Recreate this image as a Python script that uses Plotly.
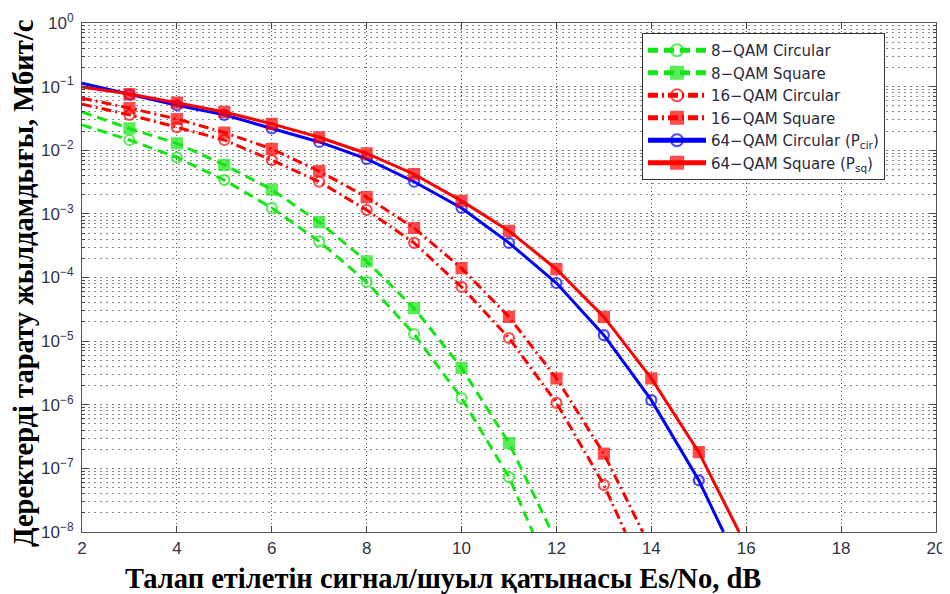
import plotly.graph_objects as go

# ---------------- data ----------------
snr_c8 = [2, 3, 4, 5, 6, 7, 8, 9, 10, 11, 11.5]
ber_c8 = [0.025, 0.0145, 0.0077, 0.0034, 0.00124, 3.7e-4, 8.5e-5, 1.29e-5, 1.27e-6, 7.3e-8, 1e-8]

snr_s8 = [2, 3, 4, 5, 6, 7, 8, 9, 10, 11, 11.9]
ber_s8 = [0.040, 0.022, 0.0128, 0.0059, 0.0024, 7.4e-4, 1.8e-4, 3.3e-5, 3.8e-6, 2.5e-7, 1e-8]

snr_c16 = [2, 3, 4, 5, 6, 7, 8, 9, 10, 11, 12, 13, 13.45]
ber_c16 = [0.053, 0.036, 0.023, 0.0145, 0.0070, 0.0032, 1.15e-3, 3.5e-4, 7.1e-5, 1.12e-5, 1.07e-6, 5.5e-8, 1e-8]

snr_s16 = [2, 3, 4, 5, 6, 7, 8, 9, 10, 11, 12, 13, 13.82]
ber_s16 = [0.066, 0.046, 0.031, 0.019, 0.0105, 0.0047, 1.83e-3, 6.0e-4, 1.4e-4, 2.4e-5, 2.6e-6, 1.7e-7, 1e-8]

snr_c64 = [2, 3, 4, 5, 6, 7, 8, 9, 10, 11, 12, 13, 14, 15, 15.52]
ber_c64 = [0.113, 0.075, 0.051, 0.036, 0.022, 0.0135, 0.0073, 0.0032, 1.24e-3, 3.5e-4, 8.2e-5,
           1.24e-5, 1.18e-6, 6.5e-8, 1e-8]

snr_s64 = [2, 3, 4, 5, 6, 7, 8, 9, 10, 11, 12, 13, 14, 15, 15.85]
ber_s64 = [0.099, 0.0765, 0.056, 0.040, 0.026, 0.016, 0.0089, 0.0042, 1.6e-3, 5.4e-4, 1.35e-4,
           2.4e-5, 2.6e-6, 1.8e-7, 1e-8]

series_names = ["8−QAM Circular", "8−QAM Square", "16−QAM Circular", "16−QAM Square",
                "64−QAM Circular (P<sub>cir</sub>)", "64−QAM Square (P<sub>sq</sub>)"]

x_tick_vals = [2, 4, 6, 8, 10, 12, 14, 16, 18, 20]
y_tick_vals = [1, 1e-1, 1e-2, 1e-3, 1e-4, 1e-5, 1e-6, 1e-7, 1e-8]
y_tick_text = ["10<sup>0</sup>", "10<sup>−1</sup>", "10<sup>−2</sup>", "10<sup>−3</sup>",
               "10<sup>−4</sup>", "10<sup>−5</sup>", "10<sup>−6</sup>", "10<sup>−7</sup>",
               "10<sup>−8</sup>"]

x_title = "Талап етілетін сигнал/шуыл қатынасы Es/No, dB"
y_title = "Деректерді тарату жылдамдығы, Мбит/с"

# ---------------- styles ----------------
GREEN = "#14e614"
RED = "#ff0000"
BLUE = "#0000ff"

styles = [
    dict(color=GREEN, dash="10px,6px", symbol="circle-open"),
    dict(color=GREEN, dash="10px,6px", symbol="square"),
    dict(color=RED, dash="10px,4px,2px,4px", symbol="circle-open"),
    dict(color=RED, dash="10px,4px,2px,4px", symbol="square"),
    dict(color=BLUE, dash="solid", symbol="circle-open"),
    dict(color=RED, dash="solid", symbol="square"),
]

data = [(snr_c8, ber_c8), (snr_s8, ber_s8), (snr_c16, ber_c16),
        (snr_s16, ber_s16), (snr_c64, ber_c64), (snr_s64, ber_s64)]

fig = go.Figure()
for (xs, ys), name, st in zip(data, series_names, styles):
    n = len(xs)
    sizes = [0] + [10] * (n - 2) + [0]   # no marker on the edge points
    fig.add_trace(go.Scatter(
        x=xs, y=ys, name=name, mode="lines+markers",
        line=dict(color=st["color"], width=3, dash=st["dash"]),
        marker=dict(symbol=st["symbol"], size=sizes, color=st["color"],
                    line=dict(color=st["color"], width=2.2)),
        cliponaxis=True,
    ))

# The page places the figure 8px from the top-left corner (default body margin),
# so the figure is 8px smaller and the margins are shifted accordingly.
# Plot area on screen: x 82..936, y 23..532.
TICKFONT = dict(family="Liberation Sans, Arial, sans-serif", size=17, color="#333344")
fig.update_layout(
    width=942, height=586,
    margin=dict(l=74, r=14, t=15, b=62, autoexpand=False),
    paper_bgcolor="white", plot_bgcolor="white",
    showlegend=True,
    legend=dict(
        x=(642 - 82) / 854, y=(532 - 33) / 509, xanchor="left", yanchor="top",
        bgcolor="white", bordercolor="#333333", borderwidth=1,
        font=dict(family="DejaVu Sans, Liberation Sans, sans-serif", size=15, color="#2a2a3a"),
        itemsizing="constant", itemwidth=58, tracegroupgap=0,
    ),
    font=dict(family="Liberation Sans, Arial, sans-serif", size=15, color="#333344"),
)

fig.update_xaxes(
    range=[2, 20], tickvals=x_tick_vals, ticktext=[str(v) for v in x_tick_vals],
    showgrid=True, gridcolor="#555555", griddash="1px,3px", gridwidth=1,
    ticks="inside", ticklen=6, tickcolor="#444", tickwidth=1,
    showline=True, linecolor="#555", linewidth=1.2, mirror="ticks",
    zeroline=False, tickfont=TICKFONT, automargin=False,
)
fig.update_yaxes(
    type="log", range=[-8, 0], tickmode="array", tickvals=y_tick_vals, ticktext=y_tick_text,
    showgrid=True, gridcolor="#7a7a7a", griddash="2px,4px", gridwidth=1,
    ticks="inside", ticklen=6, tickcolor="#444", tickwidth=1,
    showline=True, linecolor="#555", linewidth=1.2, mirror="ticks",
    zeroline=False, tickfont=TICKFONT, ticklabelstandoff=4, automargin=False,
    minor=dict(dtick="D1", showgrid=True, gridcolor="#8a8a8a", griddash="2px,4px",
               gridwidth=1, ticks="inside", ticklen=3, tickcolor="#444"),
)

fig.add_annotation(
    text="<b>" + x_title + "</b>", xref="paper", yref="paper",
    x=(443 - 82) / 854, y=-46 / 509, xanchor="center", yanchor="middle",
    showarrow=False, font=dict(family="Liberation Serif, Times New Roman, serif", size=28.5, color="black"),
)
fig.add_annotation(
    text="<b>" + y_title + "</b>", xref="paper", yref="paper",
    x=(23 - 82) / 854, y=(532 - 284) / 509, xanchor="center", yanchor="middle",
    textangle=-90, showarrow=False,
    font=dict(family="Liberation Serif, Times New Roman, serif", size=28.5, color="black"),
)

fig.write_html("out.html")
